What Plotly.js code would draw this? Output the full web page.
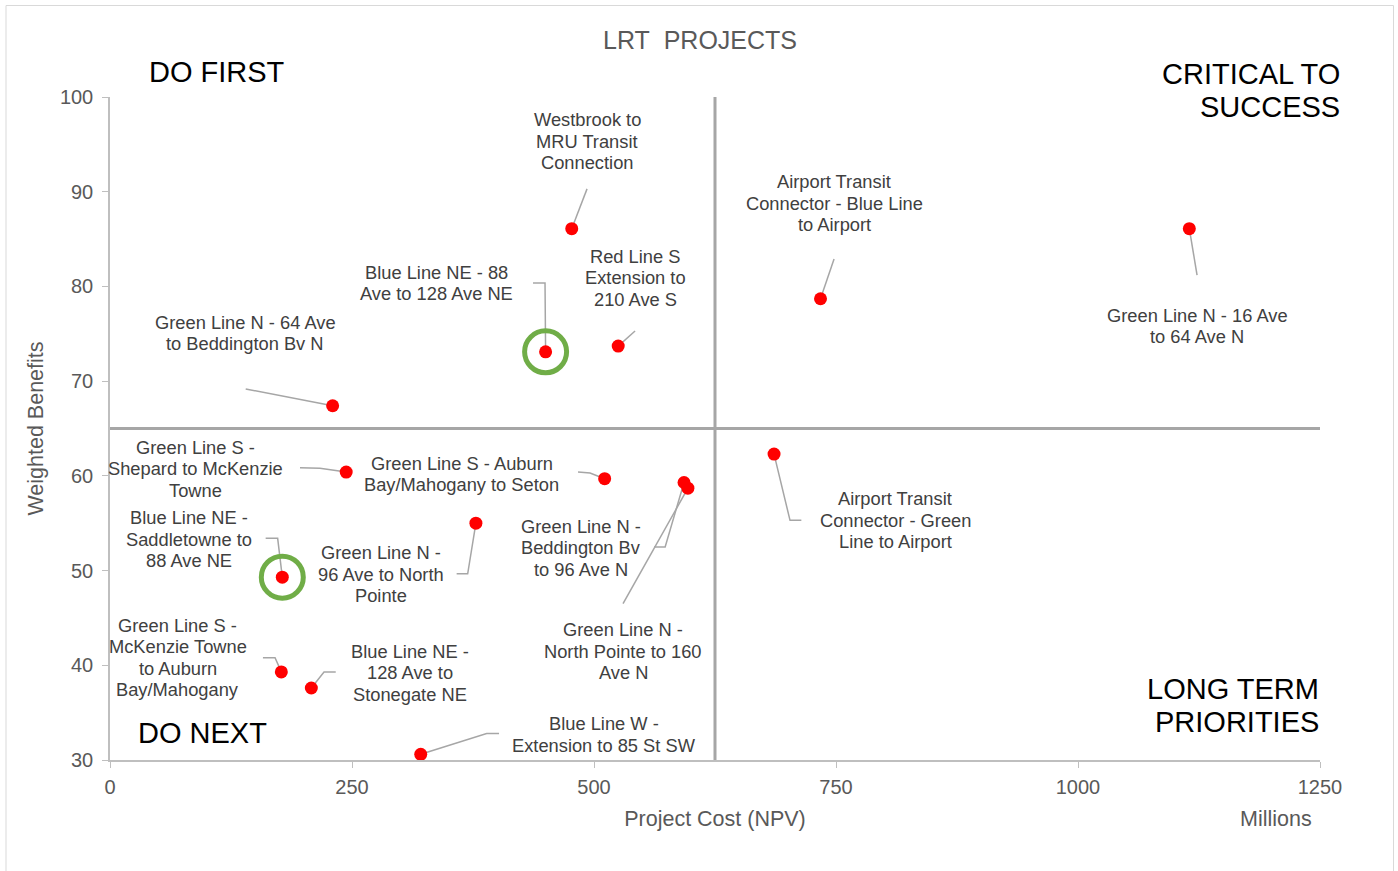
<!DOCTYPE html>
<html>
<head>
<meta charset="utf-8">
<script src="https://cdn.plot.ly/plotly-3.0.1.min.js"></script>
<style>html,body{margin:0;padding:0;background:#fff;}#chart{width:1398px;height:871px;}</style>
</head>
<body>
<div id="chart"></div>
<script>
// ---- data ----
var projects = [
  "Westbrook to<br>MRU Transit<br>Connection",
  "Blue Line NE - 88<br>Ave to 128 Ave NE",
  "Red Line S<br>Extension to<br>210 Ave S",
  "Green Line N - 64 Ave<br>to Beddington Bv N",
  "Airport Transit<br>Connector - Blue Line<br>to Airport",
  "Green Line N - 16 Ave<br>to 64 Ave N",
  "Green Line S -<br>Shepard to McKenzie<br>Towne",
  "Green Line S - Auburn<br>Bay/Mahogany to Seton",
  "Green Line N -<br>Beddington Bv<br>to 96 Ave N",
  "Green Line N -<br>North Pointe to 160<br>Ave N",
  "Airport Transit<br>Connector - Green<br>Line to Airport",
  "Green Line N -<br>96 Ave to North<br>Pointe",
  "Blue Line NE -<br>Saddletowne to<br>88 Ave NE",
  "Green Line S -<br>McKenzie Towne<br>to Auburn<br>Bay/Mahogany",
  "Blue Line NE -<br>128 Ave to<br>Stonegate NE",
  "Blue Line W -<br>Extension to 85 St SW"
];
var projectCost = [477, 450, 525, 230, 734, 1115, 244, 511, 593, 597, 686, 378, 178, 177, 208, 321];
var weightedBenefits = [86.1, 73.1, 73.7, 67.4, 78.7, 86.1, 60.4, 59.7, 59.3, 58.7, 62.3, 55.0, 49.3, 39.3, 37.6, 30.6];
var highlighted = [1, 12];   // indices of circled projects
var costThreshold = 625;
var benefitThreshold = 65;
var xTicks = [0, 250, 500, 750, 1000, 1250];
var yTicks = [30, 40, 50, 60, 70, 80, 90, 100];
var quadrantNames = ["DO FIRST", "CRITICAL TO<br>SUCCESS", "LONG TERM<br>PRIORITIES", "DO NEXT"];
var chartTitle = "LRT\u00a0\u00a0PROJECTS";
var xTitle = "Project Cost (NPV)";
var yTitle = "Weighted Benefits";
var xUnit = "Millions";

// ---- label layout (label centre + leader bend points, in axis units) ----
var labelLayout = [
  {c:[492.8, 95.35], lead:[[492.8, 90.3]]},
  {c:[337.8, 80.36], lead:[[437.0, 80.36],[449.4, 80.36]]},
  {c:[542.4, 80.9],  lead:[[542.4, 75.3]]},
  {c:[139.5, 75.1],  lead:[[140.2, 69.17]]},
  {c:[748.0, 88.8],  lead:[[748.0, 82.9]]},
  {c:[1123.0, 75.8], lead:[[1123.0, 81.2]]},
  {c:[88.8, 60.75],  lead:[[196.3, 60.86],[216.9, 60.8]]},
  {c:[363.6, 60.2],  lead:[[483.5, 60.4],[495.9, 60.3]]},
  {c:[486.6, 52.4],  lead:[[562.0, 52.5],[573.5, 52.5]]},
  {c:[530.0, 41.5],  lead:[[530.0, 46.5]]},
  {c:[811.0, 55.3],  lead:[[714.2, 55.3],[702.5, 55.3]]},
  {c:[280.0, 49.6],  lead:[[358.1, 49.66],[369.5, 49.66]]},
  {c:[81.6, 53.3],   lead:[[160.8, 53.4],[173.2, 53.4]]},
  {c:[70.2, 40.8],   lead:[[158.0, 40.8],[170.5, 40.8]]},
  {c:[310.0, 39.2],  lead:[[233.2, 39.3],[221.1, 39.3]]},
  {c:[510.0, 32.7],  lead:[[401.9, 32.8],[389.1, 32.8]]}
];

var traces = [];
var annotations = [];
var fontFam = "Liberation Sans, Arial, sans-serif";

// multi-line text with controlled line spacing
function addText(x, y, xref, yref, text, font, xanchor, lineH) {
  var lines = text.split("<br>");
  var n = lines.length;
  lines.forEach(function(s, k){
    annotations.push({x: x, y: y, xref: xref, yref: yref, text: s, showarrow: false,
      xanchor: xanchor, yanchor: 'middle', align: xanchor === 'right' ? 'right' : 'center',
      yshift: ((n - 1) / 2 - k) * lineH, font: font});
  });
}

var labelFont = {family: fontFam, size: 18.3, color: '#404040'};

// leader lines + labels
projects.forEach(function(p, i){
  var L = labelLayout[i];
  var xs = L.lead.map(function(q){return q[0];}).concat([projectCost[i]]);
  var ys = L.lead.map(function(q){return q[1];}).concat([weightedBenefits[i]]);
  traces.push({x: xs, y: ys, mode: 'lines', type: 'scatter', hoverinfo: 'skip', showlegend: false,
    line: {color: '#a6a6a6', width: 1.5}, cliponaxis: false});
  addText(L.c[0], L.c[1], 'x', 'y', p, labelFont, 'center', 21.5);
});

// highlight circles
traces.push({
  x: highlighted.map(function(i){return projectCost[i];}),
  y: highlighted.map(function(i){return weightedBenefits[i];}),
  mode: 'markers', type: 'scatter', showlegend: false, hoverinfo: 'skip', cliponaxis: false,
  marker: {symbol: 'circle-open', size: 42, color: '#70ad47', line: {width: 5, color: '#70ad47'}}
});

// project points
traces.push({
  x: projectCost, y: weightedBenefits, text: projects, mode: 'markers', type: 'scatter',
  showlegend: false, cliponaxis: false, hoverinfo: 'text',
  marker: {size: 13, color: '#ff0000'}
});

// quadrant labels (pixel positions converted to paper units)
function px(v){ return (v - 110) / 1210; }
function py(v){ return (760 - v) / 663; }
var qFont = {family: fontFam, size: 29, color: '#000000'};
addText(px(217), py(72), 'paper', 'paper', quadrantNames[0], qFont, 'center', 33);
addText(px(1342), py(90.5), 'paper', 'paper', quadrantNames[1], qFont, 'right', 33);
addText(px(1321), py(705), 'paper', 'paper', quadrantNames[2], qFont, 'right', 33);
addText(px(202), py(733), 'paper', 'paper', quadrantNames[3], qFont, 'center', 33);
annotations.push({x: px(1276), y: py(819), xref:'paper', yref:'paper', text: xUnit, showarrow:false,
  xanchor:'center', yanchor:'middle', font: {family: fontFam, size: 21.5, color: '#595959'}});

var shapes = [
  {type:'line', xref:'x', yref:'y', x0: costThreshold, x1: costThreshold, y0: 30, y1: 100, line:{color:'#a6a6a6', width:3}},
  {type:'line', xref:'x', yref:'y', x0: 0, x1: 1250, y0: benefitThreshold, y1: benefitThreshold, line:{color:'#a6a6a6', width:3}},
  {type:'rect', xref:'paper', yref:'paper', x0: px(6), x1: px(1393.5), y0: py(900), y1: py(5.5), line:{color:'#d9d9d9', width:1}, fillcolor:'rgba(0,0,0,0)', layer:'below'}
];

var tickFont = {family: fontFam, size: 20, color: '#595959'};
var layout = {
  width: 1398, height: 871,
  margin: {l: 110, r: 78, t: 97, b: 111},
  paper_bgcolor: '#ffffff', plot_bgcolor: '#ffffff',
  font: {family: fontFam, color: '#595959'},
  title: {text: chartTitle, x: 700/1398, xref: 'container', xanchor: 'center', y: 1 - 40/871, yanchor: 'middle',
          font: {family: fontFam, size: 25, color: '#595959'}},
  xaxis: {range: [0, 1250], tickvals: xTicks, ticktext: xTicks.map(String), showgrid: false, zeroline: false,
          showline: true, linecolor: '#bfbfbf', linewidth: 1.5, ticks: 'outside', ticklen: 6, tickcolor: '#bfbfbf',
          ticklabelstandoff: 2, tickfont: tickFont, fixedrange: true,
          title: {text: xTitle, standoff: 14, font: {family: fontFam, size: 21.5, color: '#595959'}}},
  yaxis: {range: [30, 100], tickvals: yTicks, ticktext: yTicks.map(String), showgrid: false, zeroline: false,
          showline: true, linecolor: '#bfbfbf', linewidth: 1.5, ticks: 'outside', ticklen: 6, tickcolor: '#bfbfbf',
          ticklabelstandoff: 5, tickfont: tickFont, fixedrange: true,
          title: {text: yTitle, standoff: 10, font: {family: fontFam, size: 21.5, color: '#595959'}}},
  shapes: shapes,
  annotations: annotations,
  showlegend: false,
  hovermode: 'closest'
};

Plotly.newPlot('chart', traces, layout, {displayModeBar: false});
</script>
</body>
</html>
